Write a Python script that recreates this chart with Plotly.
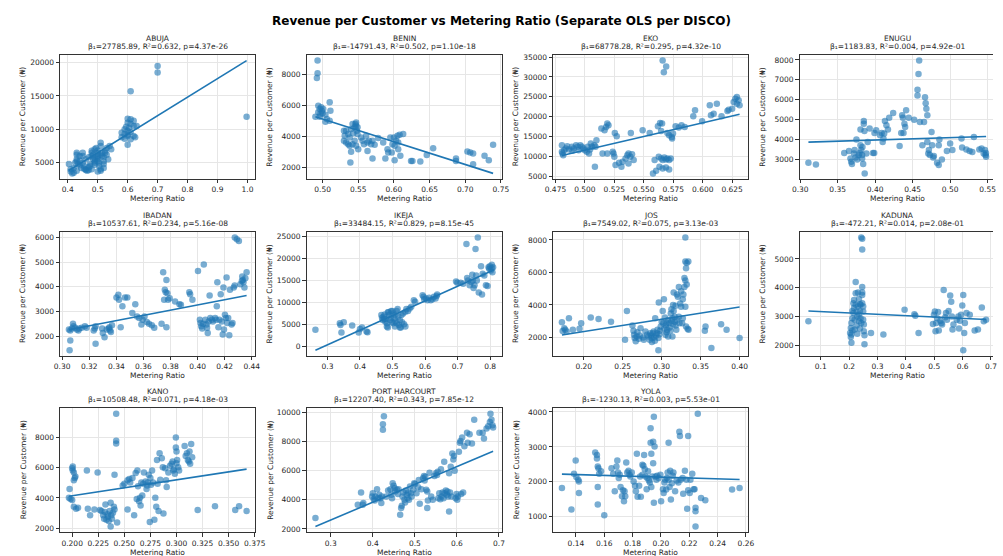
import numpy as np
import plotly.graph_objects as go

TITLE = "Revenue per Customer vs Metering Ratio (Separate OLS per DISCO)"
X_LABEL = "Metering Ratio"
Y_LABEL = "Revenue per Customer (₦)"

DISCOS = ["ABUJA", "BENIN", "EKO", "ENUGU", "IBADAN", "IKEJA", "JOS", "KADUNA",
          "KANO", "PORT HARCOURT", "YOLA"]
BETA = [27785.89, -14791.43, 68778.28, 1183.83, 10537.61, 33484.15, 7549.02, -472.21,
        10508.48, 12207.40, -1230.13]
R2 = [0.632, 0.502, 0.295, 0.004, 0.234, 0.829, 0.075, 0.014, 0.071, 0.343, 0.003]
PVAL = ["4.37e-26", "1.10e-18", "4.32e-10", "4.92e-01", "5.16e-08", "8.15e-45",
        "3.13e-03", "2.08e-01", "4.18e-03", "7.85e-12", "5.53e-01"]
INTERCEPT = [-7400, 12530, -22860, 3503, -950, -9697, 850, 3227, 2050, -1050, 2380]
X_DTICK = [0.1, 0.05, 0.025, 0.05, 0.02, 0.1, 0.05, 0.1, 0.025, 0.1, 0.02]
Y_DTICK = [5000, 2000, 5000, 1000, 1000, 5000, 2000, 1000, 2000, 2000, 1000]
X_FMT = [".1f", ".2f", ".3f", ".2f", ".2f", ".1f", ".2f", ".1f", ".3f", ".1f", ".2f"]

ABUJA = [(0.70,19500),(0.70,18500),(0.61,15700),(0.997,11900),
 (0.60,11600),(0.61,11500),(0.62,11300),(0.60,11000),(0.61,10800),(0.62,10500),(0.63,10500),
 (0.59,10000),(0.60,9800),(0.61,9600),(0.58,9500),(0.59,9300),(0.60,9200),(0.62,9000),
 (0.58,8800),(0.59,8600),(0.60,9000),(0.625,8800),(0.60,7700),(0.61,8500),(0.605,10200),(0.595,10400),
 (0.404,4800),(0.41,4000),(0.41,3700),(0.415,3400),(0.42,4200),(0.425,5000),(0.43,6500),(0.43,6200),
 (0.43,5500),(0.43,5200),(0.435,4800),(0.44,4600),(0.44,6000),(0.45,6500),(0.45,6000),(0.45,5000),
 (0.455,4500),(0.46,3900),(0.46,4000),(0.465,3800),(0.47,3900),(0.47,4300),(0.475,4800),(0.48,6800),
 (0.48,6500),(0.48,6000),(0.485,5500),(0.49,5200),(0.49,5000),(0.49,4700),(0.49,7000),(0.495,7200),
 (0.50,6800),(0.50,6000),(0.50,5800),(0.50,5500),(0.505,5000),(0.505,4500),(0.51,3800),(0.51,4000),
 (0.51,8000),(0.51,7500),(0.515,6500),(0.515,6000),(0.52,5800),(0.52,5200),(0.52,4800),(0.52,4200),
 (0.525,6800),(0.53,6200),(0.53,7200),(0.54,7500),(0.545,7000),(0.535,5500),(0.50,3700),(0.48,4000),
 (0.47,5800),(0.46,5500),(0.445,4200),(0.43,3800),(0.42,3500),(0.44,5300),(0.455,4100),(0.475,4500),
 (0.485,6200),(0.50,6400),(0.51,6200),(0.525,6500),(0.50,5200),(0.49,5600)]

BENIN = [(0.493,8930),(0.493,8100),(0.492,7800),(0.494,6000),(0.496,5780),(0.499,5670),(0.501,5780),
 (0.494,5570),(0.497,5460),(0.500,5500),(0.504,5410),(0.490,5280),(0.506,5130),(0.504,4960),(0.510,5020),
 (0.510,6220),(0.511,5670),(0.496,5280),(0.498,5890),
 (0.530,4370),(0.531,4040),(0.530,3720),(0.533,3610),(0.536,4150),(0.538,3930),(0.540,4480),(0.542,4800),
 (0.545,4590),(0.547,4910),(0.547,4700),(0.548,4370),(0.549,4150),(0.545,3720),(0.542,3500),(0.547,3390),
 (0.550,3170),(0.540,3000),(0.539,2300),(0.538,3390),(0.543,4200),(0.533,4370),(0.549,4590),(0.546,4800),
 (0.536,3500),
 (0.554,3930),(0.556,3720),(0.558,3500),(0.561,4040),(0.563,3610),(0.565,3720),(0.568,3500),(0.570,3720),
 (0.563,3060),(0.570,2565),(0.573,3460),(0.578,3890),(0.585,3610),(0.588,2565),(0.591,3170),(0.592,2960),
 (0.595,3930),(0.597,2960),(0.598,3500),(0.600,3930),(0.601,2460),(0.603,3720),(0.606,3610),(0.605,4040),
 (0.608,4110),(0.613,4150),(0.609,2740),(0.606,3170),(0.601,3390),(0.624,2410),(0.626,2410),(0.637,2370),
 (0.646,2800),(0.655,3240),(0.687,2565),(0.687,2410),(0.703,3020),(0.707,2960),(0.711,2890),(0.711,2200),
 (0.727,2740),(0.733,2460),(0.739,3460)]

EKO = [(0.566,34120),(0.569,32600),(0.567,31200),
 (0.4805,12780),(0.4805,11100),(0.481,10700),(0.4816,10270),(0.4838,11950),(0.485,12530),(0.4865,11690),
 (0.489,12360),(0.4906,11950),(0.4925,12780),(0.494,12360),(0.4947,11530),(0.4961,12780),(0.4975,12360),
 (0.4989,11950),(0.500,11530),(0.5016,11100),(0.5035,10700),(0.505,13200),(0.506,12360),(0.508,12780),
 (0.509,12360),(0.5098,14040),(0.5085,7340),(0.5044,11690),(0.5024,12360),(0.4893,11360),(0.4824,11530),
 (0.514,16970),(0.5167,16550),(0.519,18220),(0.520,17800),(0.518,17380),(0.515,10700),(0.519,10700),
 (0.5236,11100),(0.5243,10700),(0.525,9850),(0.5254,15880),(0.527,15040),(0.526,7760),(0.529,8350),
 (0.531,7340),(0.532,8600),(0.5345,9430),(0.536,10270),(0.537,10700),(0.5386,9850),(0.539,15880),
 (0.540,10520),(0.5414,9020),(0.537,8180),
 (0.549,16550),(0.555,15880),(0.5592,9020),(0.5578,5670),(0.5605,6340),(0.562,17550),(0.5638,18390),
 (0.5655,18220),(0.5647,16380),(0.5627,9850),(0.5647,9430),(0.566,9020),(0.5674,9680),(0.5688,9180),
 (0.570,9430),(0.5715,9020),(0.5729,9430),(0.5633,7340),(0.566,6920),(0.5688,7180),(0.5715,6670),
 (0.570,15880),(0.5715,15290),(0.5737,14870),(0.5748,15710),(0.574,14460),(0.577,17550),(0.5797,17220),
 (0.582,17800),(0.5847,17380),
 (0.592,20060),(0.5935,21570),(0.5995,18800),(0.606,22820),(0.607,20310),(0.6093,20730),(0.612,23240),
 (0.616,20060),(0.621,21400),(0.622,21740),(0.625,21990),(0.6263,23660),(0.6277,24500),(0.629,24910),
 (0.6305,24080),(0.6313,22820),(0.629,23240)]

ENUGU = [(0.3109,2830),(0.3209,2750),(0.3587,3330),(0.365,3430),(0.367,3050),(0.368,2880),(0.369,2770),
 (0.3717,3300),(0.3726,3470),(0.374,3100),(0.375,4000),(0.376,3000),(0.378,3220),(0.3796,3330),(0.3804,4500),
 (0.3813,3470),(0.3826,3220),(0.3826,3050),(0.384,2770),(0.3848,4930),(0.3848,4800),(0.3857,4430),
 (0.383,3630),(0.3804,3720),(0.386,2300),(0.3883,3300),(0.39,3880),(0.3926,4550),(0.397,3330),(0.3987,3330),
 (0.3991,4330),(0.4013,4470),(0.4065,4220),(0.4087,4330),(0.41,3880),(0.411,4050),(0.412,4300),(0.413,4930),
 (0.415,4720),(0.417,4500),(0.4187,5100),(0.424,5330),(0.4326,3670),(0.4348,4330),(0.436,5220),(0.437,5100),
 (0.4378,4330),(0.439,4800),(0.44,4630),(0.4413,5470),(0.4448,5100),(0.452,5000),(0.4565,6500),(0.4578,7300),
 (0.4587,7970),(0.4565,6220),(0.4596,4880),(0.463,3720),(0.4652,4880),(0.4665,6130),(0.4674,5830),
 (0.4683,5550),(0.4696,5220),(0.4696,3880),(0.4709,3300),(0.4717,3470),(0.473,3220),(0.4752,4380),
 (0.476,3720),(0.4774,3100),(0.4783,3170),(0.4826,2830),(0.4848,2720),(0.4857,4000),(0.4848,3720),
 (0.489,3000),(0.4957,3430),(0.5,3800),(0.503,3470),(0.5152,4050),(0.516,3600),(0.5217,3500),(0.526,3430),
 (0.5296,3380),(0.5317,4130),(0.539,3500),(0.542,3550),(0.5448,3300),(0.5465,3470),(0.5472,3220),
 (0.5478,3330),(0.548,3130)]

IBADAN = [(0.3055,1430),(0.306,1830),(0.305,2270),(0.306,2230),(0.3072,2310),(0.308,2500),(0.3084,2400),
 (0.3096,2340),(0.3108,2270),(0.312,2230),(0.3127,2310),(0.3144,2340),(0.3168,2400),(0.318,2340),
 (0.3233,2230),(0.3241,2310),(0.3247,2400),(0.3247,1690),(0.3295,2310),(0.33,2130),(0.3313,1960),
 (0.3329,2270),(0.3344,2310),(0.3349,2360),(0.3354,2230),(0.336,2170),(0.3368,2440),(0.3401,3570),
 (0.3415,3680),(0.342,3480),(0.3432,2360),(0.3445,3210),(0.3464,3570),(0.3481,3570),(0.3518,2940),
 (0.354,3300),(0.3553,2800),(0.3569,2740),(0.3585,2470),(0.3594,2670),(0.3608,2800),(0.3625,2580),
 (0.3641,2500),(0.3662,2440),(0.368,2340),(0.3734,2500),(0.3746,4590),(0.3753,3480),(0.3758,3880),
 (0.3765,3780),(0.377,4280),(0.377,2360),(0.3777,3740),(0.3782,3480),(0.3794,3540),(0.3834,3410),
 (0.3866,3300),(0.3877,3270),(0.3939,3780),(0.3945,3700),(0.3962,3480),(0.4003,4640),(0.4017,2670),
 (0.4022,2540),(0.4027,2400),(0.4034,2310),(0.4041,2500),(0.4046,4910),(0.4058,2670),(0.4066,2470),
 (0.407,2340),(0.4075,2130),(0.4082,2600),(0.4089,3650),(0.4094,2740),(0.4106,2670),(0.4113,2600),
 (0.413,2740),(0.4137,2670),(0.4142,3210),(0.4146,4190),(0.4154,2360),(0.4161,2670),(0.4171,3700),
 (0.4179,2600),(0.4186,2070),(0.4191,3970),(0.4195,2270),(0.4202,2870),(0.4209,2740),(0.4214,4380),
 (0.4219,2540),(0.4226,2740),(0.4234,2040),(0.4239,3880),(0.4251,2470),(0.4258,2540),(0.4267,3970),
 (0.4274,4050),(0.4275,6000),(0.429,5930),(0.4305,5860),(0.4316,4110),(0.433,4420),(0.4334,4280),
 (0.4339,4190),(0.4346,3970),(0.4353,4350),(0.4362,4590),(0.4327,4240)]

IKEJA = [(0.263,3770),(0.338,5270),(0.34,4890),(0.343,3160),(0.35,5500),(0.376,4740),(0.396,3160),
 (0.40,3990),(0.406,4290),(0.42,3390),(0.423,3240),
 (0.4657,7150),(0.4677,6550),(0.4697,6020),(0.4727,6780),(0.4757,7300),(0.4776,5650),(0.4796,6250),
 (0.4826,5270),(0.4826,4520),(0.4856,4290),(0.4876,7760),(0.4896,7150),(0.4926,6020),(0.4956,6550),
 (0.4976,5500),(0.4996,8060),(0.5026,7530),(0.5056,6400),(0.5076,7150),(0.5096,5650),(0.5126,8060),
 (0.5156,8510),(0.5176,6780),(0.5196,4890),(0.5226,6020),(0.5255,4290),(0.5275,7150),(0.5295,5500),
 (0.5325,7530),(0.5355,5050),(0.5395,7910),(0.5425,8510),(0.5475,8060),(0.5525,8660),(0.5575,9040),
 (0.5395,4520),(0.5076,4520),(0.4956,8060),(0.4856,7760),(0.4737,6250),(0.5126,5270),(0.5226,4290),
 (0.5026,5270),
 (0.5655,10540),(0.5695,10170),(0.5924,11670),(0.5954,11300),(0.5974,10770),(0.6024,10920),(0.6074,10540),
 (0.6124,11070),(0.6174,10540),(0.6224,10770),(0.6323,10920),(0.6353,11520),(0.6373,11820),(0.6273,11300),
 (0.6952,14830),(0.6992,14530),(0.7092,14530),(0.7172,14310),(0.7272,23340),(0.7292,15590),(0.7322,15060),
 (0.7371,13930),(0.7421,14680),(0.7451,16340),(0.7471,15060),(0.7491,13330),(0.7521,13930),(0.7551,22210),
 (0.7571,16190),(0.7591,15060),(0.7621,24850),(0.7651,12270),(0.7721,18300),(0.7751,11820),(0.7771,16570),
 (0.7821,16190),(0.7871,13930),(0.7921,13780),(0.7951,18070),(0.7971,17700),(0.7991,18300),(0.8021,17320),
 (0.8051,17850),(0.8071,16940),(0.8091,18070),(0.8051,18600)]

JOS = [(0.172,2930),(0.173,2400),(0.175,2570),(0.1762,2470),(0.178,2370),(0.181,3180),(0.186,2470),
 (0.1946,2530),(0.1967,2870),(0.209,3220),(0.219,3140),(0.235,2970),(0.253,1860),(0.2554,3620),
 (0.2625,2730),(0.2638,2410),(0.2646,2160),(0.2654,1960),(0.2667,1760),(0.268,2060),(0.2688,2320),
 (0.2708,1920),(0.272,2120),(0.2729,2570),(0.2763,2000),(0.2771,1860),(0.2792,2370),(0.2813,2160),
 (0.2833,2060),(0.2846,1860),(0.2854,2260),(0.2863,2120),(0.2875,1960),(0.2875,1720),(0.2888,2260),
 (0.2896,2370),(0.2904,2000),(0.2913,1800),(0.2917,3180),(0.2929,2120),(0.2938,2260),(0.2946,2470),
 (0.2958,1210),(0.2958,1960),(0.2963,4150),(0.2971,2200),(0.2979,2410),(0.2988,2670),(0.3,2970),
 (0.3013,3620),(0.3021,2870),(0.3029,4350),(0.3033,2530),(0.3042,3220),(0.305,2160),(0.3054,2730),
 (0.3063,2320),(0.3063,2870),(0.3071,2470),(0.3083,3080),(0.3083,2060),(0.3096,2870),(0.3104,2610),
 (0.3113,2410),(0.3117,3480),(0.3125,3740),(0.3125,3010),(0.3138,3180),(0.3138,2060),(0.3146,3990),
 (0.3146,2810),(0.3154,3620),(0.3154,4760),(0.3167,3280),(0.3167,2970),(0.3179,3950),(0.3179,2730),
 (0.3188,2470),(0.3196,3080),(0.3196,4640),(0.3208,4500),(0.3221,5100),(0.3221,3280),(0.3229,2870),
 (0.3238,4090),(0.325,3890),(0.325,4840),(0.3263,2870),(0.3271,3180),(0.3271,4350),(0.3279,4640),
 (0.3292,5100),(0.3292,5650),(0.3304,5510),(0.3304,3890),(0.3304,6670),(0.3313,6260),(0.3313,2670),
 (0.3321,5250),(0.3321,6580),(0.3333,2530),(0.3304,8150),(0.3342,6670),(0.3345,2470),(0.3554,2410),
 (0.3563,2670),(0.3638,1350),(0.3763,2810),(0.3833,2470),(0.40,1960)]

KADUNA = [(0.0563,2840),
 (0.2034,2440),(0.2057,2610),(0.2057,2300),(0.208,2100),(0.208,2780),(0.2115,2520),(0.2115,2950),
 (0.215,3470),(0.215,3130),(0.2172,3580),(0.2172,3300),(0.2195,2900),(0.223,3810),(0.223,4200),
 (0.223,3410),(0.2264,3180),(0.2264,2700),(0.2287,2410),(0.231,3840),(0.231,3350),(0.2345,3610),
 (0.2345,3070),(0.2345,2840),(0.238,3200),(0.238,2590),(0.2402,3410),(0.2402,2950),(0.2425,5740),
 (0.246,5700),(0.246,5320),(0.246,4030),(0.246,3840),(0.246,3750),(0.246,3470),(0.2494,3350),
 (0.2494,3180),(0.2494,2900),(0.2517,2730),(0.2517,2500),(0.254,2360),(0.254,2050),(0.2115,3200),
 (0.2195,2560),(0.2287,3010),(0.2425,2780),(0.238,3430),(0.208,2390),
 (0.277,2440),(0.3207,2390),(0.3954,3240),(0.43,3090),(0.4333,3030),(0.4448,2440),(0.4954,2750),
 (0.4989,3070),(0.5023,3180),(0.5046,2500),(0.5069,2780),(0.5103,2950),(0.5138,3160),(0.516,2520),
 (0.5218,2860),(0.5253,2780),(0.5276,2730),(0.5333,3920),(0.539,2980),(0.5414,3130),(0.5448,2900),
 (0.5506,3200),(0.5563,3730),(0.5598,3520),(0.5621,3010),(0.5644,2560),(0.5678,2730),(0.5793,2900),
 (0.585,3010),(0.5874,2590),(0.5908,2860),(0.5943,3070),(0.5989,3390),(0.6023,3750),(0.6057,2440),
 (0.6023,1840),(0.608,2780),(0.6138,3130),(0.6253,3070),(0.6425,2520),(0.654,2560),(0.6678,3320),
 (0.6747,2840),(0.6828,2900)]

KANO = [(0.1969,4010),(0.1975,4600),(0.1984,3940),(0.2,3860),(0.2,5970),(0.2006,6080),(0.2006,5820),
 (0.2016,5690),(0.2016,5170),(0.2025,5320),(0.2031,5430),(0.2016,3420),(0.2038,3290),(0.2056,3350),
 (0.2141,5820),(0.215,3290),(0.2172,2850),(0.2213,3240),(0.2244,5690),(0.2266,3200),(0.2281,3140),
 (0.2297,2850),(0.2306,2630),(0.2313,3070),(0.2319,3570),(0.2328,2550),(0.2338,2920),(0.2344,2760),
 (0.235,2480),(0.2359,3140),(0.2369,3680),(0.2369,2110),(0.2375,2850),(0.2381,2630),(0.2391,3030),
 (0.24,3420),(0.2406,5540),(0.2406,3240),(0.2422,9580),(0.2422,7790),(0.2422,7610),(0.2431,2370),
 (0.2484,4820),(0.25,4950),(0.2531,5170),(0.2531,3240),(0.2547,5250),(0.2556,5030),(0.2578,5320),
 (0.2594,2850),(0.2609,5650),(0.2619,3940),(0.2625,5820),(0.2631,4770),(0.2641,3790),(0.265,4010),
 (0.2656,3510),(0.2663,5030),(0.2672,4160),(0.2681,4950),(0.2688,5690),(0.2703,5090),(0.2713,4600),
 (0.2719,4820),(0.2725,5030),(0.2734,5540),(0.2744,2410),(0.275,5320),(0.2756,4870),(0.2766,5820),
 (0.2775,5030),(0.2788,2550),(0.2797,4010),(0.2806,3420),(0.2813,6520),(0.2819,4950),(0.2828,3140),
 (0.2838,6960),(0.2844,5210),(0.2859,6630),(0.2869,6040),(0.2875,2980),(0.2891,5970),(0.29,5170),
 (0.2906,4730),(0.2922,5690),(0.2938,6130),(0.2953,6260),(0.2963,6410),(0.2969,5820),(0.2975,5910),
 (0.2984,5600),(0.2994,8000),(0.2994,7350),(0.3,7070),(0.3,6300),(0.3006,6520),(0.3016,6040),
 (0.3025,5820),(0.3078,7440),(0.3088,6780),(0.31,6960),(0.3109,6520),(0.3119,6410),(0.3125,7070),
 (0.3131,6260),(0.3141,7570),(0.315,6700),(0.3203,3200),(0.3369,3460),(0.3563,3200),(0.36,3460),
 (0.3672,3140)]

PORT_HARCOURT = [(0.2636,2750),(0.3643,3660),(0.3721,4490),(0.376,3660),(0.3775,3770),(0.3984,4220),
 (0.4,4450),(0.4023,4040),(0.4047,3950),(0.4062,4220),(0.4101,4720),(0.4124,4110),(0.4155,4340),
 (0.4178,4110),(0.4202,3770),(0.4217,4220),(0.424,8800),(0.424,9170),(0.4264,9710),(0.4318,4220),
 (0.4364,4630),(0.4419,4720),(0.4442,4340),(0.4457,4110),(0.4473,5130),(0.4496,4950),(0.452,4790),
 (0.4535,4560),(0.4574,4680),(0.4597,4400),(0.4612,4720),(0.4651,2980),(0.4674,3430),(0.469,3590),
 (0.4705,4220),(0.4729,4490),(0.4752,4000),(0.4767,3810),(0.4783,4630),(0.4806,4340),(0.4829,4110),
 (0.4845,4490),(0.486,4000),(0.4884,4900),(0.4907,4450),(0.4922,4220),(0.4961,4680),(0.4984,5130),
 (0.5,5080),(0.5039,4450),(0.5078,4860),(0.5093,5360),(0.5116,3720),(0.5155,4720),(0.5194,5470),
 (0.5217,5630),(0.5233,5310),(0.5248,5580),(0.5271,4680),(0.5295,3430),(0.5295,4560),(0.531,3950),
 (0.5349,5850),(0.5388,4220),(0.5426,4000),(0.5465,5630),(0.5504,5810),(0.5527,5700),(0.5543,5920),
 (0.5558,4110),(0.5581,4450),(0.5605,4040),(0.562,6080),(0.5636,4220),(0.5659,4490),(0.5682,4110),
 (0.5698,6600),(0.5713,4450),(0.5736,4630),(0.576,4340),(0.5775,4560),(0.5791,4220),(0.5814,5810),
 (0.5814,3200),(0.5837,4490),(0.5853,6260),(0.5868,4220),(0.5891,7170),(0.5915,6760),(0.593,6990),
 (0.5946,5990),(0.5969,4110),(0.5992,4400),(0.6008,4000),(0.6023,4220),(0.6047,7280),(0.607,7900),
 (0.6085,8030),(0.6101,4400),(0.6124,8260),(0.6147,4490),(0.6178,7670),(0.624,8580),(0.6256,7900),
 (0.6302,8490),(0.6357,7850),(0.6411,9480),(0.6535,8580),(0.6612,8580),(0.6643,8190),(0.6705,8870),
 (0.6744,9030),(0.6783,9320),(0.6798,9890),(0.6822,9480),(0.6845,9100),(0.686,8940)]

YOLA = [(0.1301,1820),(0.1368,1210),(0.1386,2230),(0.1398,2610),(0.1403,2140),(0.1416,2060),(0.1421,2010),
 (0.1421,1680),(0.1536,2840),(0.1548,2770),(0.1548,2670),(0.1554,2440),(0.1559,2390),(0.1554,1850),
 (0.1554,1350),(0.1564,2230),(0.1577,2300),(0.16,1040),(0.1651,2390),(0.1663,2230),(0.1674,1730),
 (0.1686,2440),(0.1692,2610),(0.1697,2270),(0.1702,2110),(0.1709,2200),(0.1715,1850),(0.1725,1590),
 (0.1732,1760),(0.1739,1440),(0.1743,1730),(0.1748,1590),(0.1755,2550),(0.1762,2270),(0.1771,2320),
 (0.1778,2200),(0.1784,2150),(0.1794,2270),(0.1807,2010),(0.1817,1890),(0.1823,1730),(0.183,2800),
 (0.1835,1570),(0.1846,1890),(0.1853,2150),(0.1858,1570),(0.1869,2200),(0.1869,2490),(0.1876,2460),
 (0.1881,2770),(0.1886,2360),(0.1892,2150),(0.1899,1790),(0.1904,2110),(0.1909,2300),(0.1915,2040),
 (0.1922,1980),(0.1927,3530),(0.1927,3120),(0.1932,2800),(0.1932,1850),(0.1938,2150),(0.1945,3150),
 (0.1945,2530),(0.195,3860),(0.195,1400),(0.1955,3010),(0.1962,2150),(0.1968,2060),(0.1973,2170),
 (0.1984,2110),(0.1996,2200),(0.2001,1440),(0.2014,1790),(0.2019,1680),(0.2024,1980),(0.203,2060),
 (0.2037,1780),(0.2042,2110),(0.2047,2270),(0.2054,3120),(0.2054,2060),(0.2061,1850),(0.2065,2320),
 (0.207,1490),(0.2077,1960),(0.2083,2170),(0.2088,2270),(0.21,1730),(0.2111,2040),(0.2123,1980),
 (0.213,3430),(0.2134,3310),(0.2139,2060),(0.2153,2110),(0.2157,1660),(0.2169,2320),(0.218,2060),
 (0.2185,1230),(0.2192,3310),(0.2192,1760),(0.2203,1680),(0.2208,2060),(0.2221,2230),(0.2231,1790),
 (0.2237,1790),(0.2244,1260),(0.2244,1160),(0.2244,720),(0.226,3950),(0.2283,1540),(0.2313,1470),
 (0.2502,1780),(0.2555,1820)]

POINTS = [ABUJA, BENIN, EKO, ENUGU, IBADAN, IKEJA, JOS, KADUNA, KANO, PORT_HARCOURT, YOLA]

# ---------------- layout geometry (pixels) ----------------
W, H = 1003, 556
COL_LEFT = [53, 304, 555, 806]
ROW_TOP = [53.3, 231.5, 409]
AX_W, AX_H = 199, 125
BLUE = "#1f77b4"
FONT = "DejaVu Sans"
TXT = "#262626"

fig = go.Figure()
layout = dict(
    width=W, height=H, margin=dict(l=0, r=0, t=0, b=0, pad=0), autosize=False,
    paper_bgcolor="white", plot_bgcolor="white", showlegend=False,
    font=dict(family=FONT, size=7.5, color=TXT),
)
annotations = []

for i, name in enumerate(DISCOS):
    r, c = divmod(i, 4)
    pts = np.array(POINTS[i], dtype=float)
    x, y = pts[:, 0], pts[:, 1]
    lx = np.array([x.min(), x.max()])
    ly = INTERCEPT[i] + BETA[i] * lx

    xmin, xmax = x.min(), x.max()
    ymin, ymax = min(y.min(), ly.min()), max(y.max(), ly.max())
    xs, ys = xmax - xmin, ymax - ymin
    xr = [xmin - 0.05 * xs, xmax + 0.05 * xs]
    yr = [ymin - 0.05 * ys, ymax + 0.05 * ys]

    L = COL_LEFT[c]
    R = L + AX_W
    clipped = R > W
    if clipped:
        xr[1] = xr[0] + (W - L) / AX_W * (xr[1] - xr[0])
        R = W
    T = ROW_TOP[r]
    B = T + AX_H

    sfx = "" if i == 0 else str(i + 1)
    xa, ya = "x" + sfx, "y" + sfx

    fig.add_trace(go.Scatter(x=x, y=y, mode="markers", xaxis=xa, yaxis=ya,
                             marker=dict(color=BLUE, size=6.5, opacity=0.6, line=dict(width=0)),
                             hoverinfo="skip"))
    fig.add_trace(go.Scatter(x=lx, y=ly, mode="lines", xaxis=xa, yaxis=ya,
                             line=dict(color=BLUE, width=1.6), hoverinfo="skip"))

    common = dict(showline=True, linecolor="#333333", linewidth=0.8,
                  ticks="outside", ticklen=3.5, tickwidth=0.8, tickcolor="#333333",
                  showgrid=True, gridcolor="#e6e6e6", gridwidth=0.8, zeroline=False,
                  tickfont=dict(family=FONT, size=7.5, color=TXT), tickangle=0)
    layout["xaxis" + sfx] = dict(domain=[L / W, R / W], range=xr, anchor=ya, mirror=True,
                                 dtick=X_DTICK[i], tick0=0, tickformat=X_FMT[i], **common)
    layout["yaxis" + sfx] = dict(domain=[1 - B / H, 1 - T / H], range=yr, anchor=xa,
                                 mirror=not clipped,
                                 dtick=Y_DTICK[i], tick0=0, tickformat="d", **common)

    cx = (L + AX_W / 2) / W
    annotations.append(dict(text=name, x=cx, y=1 - (T - 16.3) / H, xref="paper", yref="paper",
                            xanchor="center", yanchor="middle", showarrow=False,
                            font=dict(family=FONT, size=7.5, color=TXT)))
    stats = f"β₁={BETA[i]:.2f}, R²={R2[i]:.3f}, p={PVAL[i]}"
    annotations.append(dict(text=stats, x=cx, y=1 - (T - 8.5) / H, xref="paper", yref="paper",
                            xanchor="center", yanchor="middle", showarrow=False,
                            font=dict(family=FONT, size=7.5, color=TXT)))
    annotations.append(dict(text=X_LABEL, x=cx, y=1 - (B + 20) / H, xref="paper", yref="paper",
                            xanchor="center", yanchor="middle", showarrow=False,
                            font=dict(family=FONT, size=7.5, color=TXT)))
    annotations.append(dict(text=Y_LABEL, x=(L - 37.5) / W, y=1 - (T + AX_H / 2) / H,
                            xref="paper", yref="paper", textangle=-90,
                            xanchor="center", yanchor="middle", showarrow=False,
                            font=dict(family=FONT, size=7.5, color=TXT)))

annotations.append(dict(text=f"<b>{TITLE}</b>", x=502.5 / W, y=1 - 19 / H, xref="paper", yref="paper",
                        xanchor="center", yanchor="middle", showarrow=False,
                        font=dict(family=FONT, size=12, color="#000000")))
layout["annotations"] = annotations
fig.update_layout(**layout)

fig.write_html(
    "out.html",
    config={"displayModeBar": False, "responsive": False},
    post_script="document.documentElement.style.margin='0';document.body.style.margin='0';"
                "document.body.style.padding='0';document.body.style.overflow='hidden';",
)
